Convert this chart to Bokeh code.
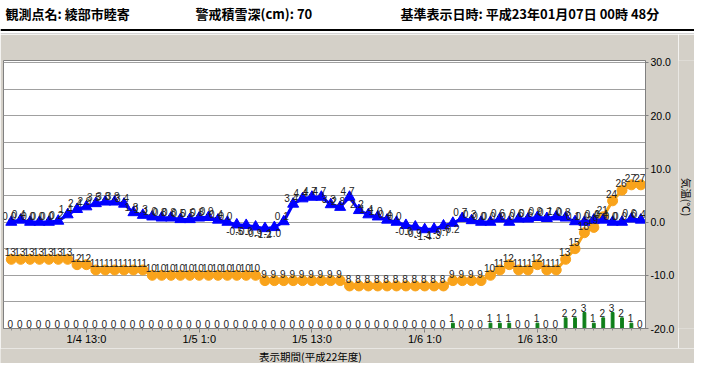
from math import pi
from bokeh.plotting import figure
from bokeh.models import (Range1d, FixedTicker, SingleIntervalTicker, ColumnDataSource,
                          Span, PrintfTickFormatter)
from bokeh.layouts import column, row
from bokeh.embed import file_html
from bokeh.resources import INLINE
from bokeh.core.properties import value

# ---------------- data ----------------
station = "観測点名: 綾部市睦寄"
warn_depth = "警戒積雪深(cm): 70"
ref_time = "基準表示日時: 平成23年01月07日 00時 48分"
x_title = "表示期間(平成22年度)"
y_title = "気温(℃)"

start_hour = 5  # 1/4 5:00, hours counted from 1/4 0:00

temp = [0.0, 0.4, 0.0, 0.0, 0.0, 0.2, 1.4, 2.4, 2.9, 3.5,
        3.8, 3.8, 3.4, 1.8, 1.3, 1.0, 0.8, 0.8, 0.5, 0.5,
        0.8, 0.9, 0.4, 0.0, -0.5, -0.6, -0.9, -1.2, -1.0, 0.1,
        3.4, 4.4, 4.7, 4.7, 3.3, 2.8, 4.7, 2.2, 1.4, 1.0,
        0.4, 0.0, -0.6, -0.9, -1.4, -1.3, -0.7, -0.2, 0.7, 0.3,
        0.0, 0.0, 0.6, 0.0, 0.6, 0.6, 0.9, 0.7, 1.0, 0.8,
        0.1, 0.0, 0.4, 0.4, 0.0, 0.0, 0.6, 0.4]

depth = [13, 13, 13, 13, 13, 13, 13, 12, 12, 11,
         11, 11, 11, 11, 11, 10, 10, 10, 10, 10,
         10, 10, 10, 10, 10, 10, 10, 9, 9, 9,
         9, 9, 9, 9, 9, 9, 8, 8, 8, 8,
         8, 8, 8, 8, 8, 8, 8, 9, 9, 9,
         9, 10, 11, 12, 11, 11, 12, 11, 11, 13,
         15, 18, 19, 21, 24, 26, 27, 27]

snowfall = [0, 0, 0, 0, 0, 0, 0, 0, 0, 0,
            0, 0, 0, 0, 0, 0, 0, 0, 0, 0,
            0, 0, 0, 0, 0, 0, 0, 0, 0, 0,
            0, 0, 0, 0, 0, 0, 0, 0, 0, 0,
            0, 0, 0, 0, 0, 0, 0, 1, 0, 0,
            0, 1, 1, 1, 0, 0, 1, 0, 0, 2,
            2, 3, 1, 2, 3, 2, 1, 0]

tick_hours = [13, 25, 37, 49, 61]
tick_labels = ["1/4 13:0", "1/5 1:0", "1/5 13:0", "1/6 1:0", "1/6 13:0"]
y_ticks = [-20, -10, 0, 10, 20, 30]

hours = [start_hour + i for i in range(len(temp))]

# ---------------- layout constants (pixels) ----------------
W, H = 694, 363
HDR_H = 34
B_LEFT, FRAME_W, B_RIGHT = 3, 642, 33
B_TOP, FRAME_H, B_BOTTOM = 26, 268, 20
MAIN_W = B_LEFT + FRAME_W + B_RIGHT
MAIN_H = B_TOP + FRAME_H + B_BOTTOM
RS_W = W - MAIN_W
BOT_H = H - HDR_H - MAIN_H

GRAY = "#d4d0c8"
ORANGE = "#f9a31b"
BLUE = "#0000ff"
GREEN = "#0f7f1a"
LBL_FONT = value("Liberation Sans")
JP_FONT = value("Noto Sans CJK JP")


def blank(width, height, fill):
    f = figure(width=width, height=height, x_range=Range1d(0, width), y_range=Range1d(height, 0),
               x_axis_type=None, y_axis_type=None, toolbar_location=None,
               output_backend="svg", min_border=0)
    f.grid.visible = False
    f.outline_line_color = None
    f.background_fill_color = fill
    f.border_fill_color = fill
    return f


# ---------------- header ----------------
hdr = blank(W, HDR_H, "white")
hdr.text(x=[5, 195, 400], y=[13, 13, 13], text=[station, warn_depth, ref_time],
         text_font=JP_FONT, text_font_style="bold", text_font_size="13px",
         text_baseline="middle", text_align="left", text_color="black")
hdr.add_layout(Span(location=29.5, dimension="width", line_color="black", line_width=2))
hdr.add_layout(Span(location=33.5, dimension="width", line_color="#a8a8a8", line_width=1))

# ---------------- main chart ----------------
p = figure(frame_width=FRAME_W, frame_height=FRAME_H,
           x_range=Range1d(4.17, 72.5), y_range=Range1d(-20, 30.37),
           y_axis_location="right", toolbar_location=None, output_backend="svg",
           min_border_left=B_LEFT, min_border_right=B_RIGHT, min_border_top=B_TOP,
           min_border_bottom=B_BOTTOM)
p.extra_y_ranges = {"snow": Range1d(0, 50.37)}
p.border_fill_color = GRAY
p.background_fill_color = "white"
p.outline_line_color = "#808080"

# right (temperature) axis
p.yaxis.ticker = FixedTicker(ticks=y_ticks)
p.yaxis.formatter = PrintfTickFormatter(format="%.1f")
p.yaxis.major_tick_out = 3
p.yaxis.major_tick_in = 0
p.yaxis.minor_tick_out = 0
p.yaxis.minor_tick_in = 0
p.yaxis.axis_line_color = "#808080"
p.yaxis.major_tick_line_color = "#808080"
p.yaxis.major_label_standoff = 2
p.yaxis.major_label_text_font = "Liberation Sans"
p.yaxis.major_label_text_font_size = "10.5px"
p.yaxis.major_label_text_color = "black"

p.ygrid.ticker = SingleIntervalTicker(interval=5)
p.ygrid.grid_line_color = "#a0a0a0"
p.xgrid.visible = False

# bottom (time) axis
p.xaxis.ticker = FixedTicker(ticks=tick_hours, minor_ticks=hours)
p.xaxis.major_label_overrides = dict(zip(tick_hours, tick_labels))
p.xaxis.major_tick_out = 4
p.xaxis.major_tick_in = 0
p.xaxis.minor_tick_out = 2
p.xaxis.minor_tick_in = 0
p.xaxis.axis_line_color = "#808080"
p.xaxis.major_tick_line_color = "#808080"
p.xaxis.minor_tick_line_color = "#909090"
p.xaxis.major_label_standoff = 0
p.xaxis.major_label_text_font = "Liberation Sans"
p.xaxis.major_label_text_font_size = "11px"
p.xaxis.major_label_text_color = "black"

# snowfall bars
p.vbar(x=hours, top=snowfall, bottom=0, width=0.3, y_range_name="snow",
       fill_color=GREEN, line_color=GREEN)

# snow depth
p.line(hours, depth, y_range_name="snow", line_color=ORANGE, line_width=3)
p.scatter(hours, depth, y_range_name="snow", marker="circle", size=10,
          fill_color=ORANGE, line_color=ORANGE)

# temperature
p.line(hours, temp, line_color=BLUE, line_width=3)
p.scatter(hours, temp, marker="triangle", size=11, fill_color=BLUE, line_color=BLUE)

# value labels
pos = [(h, t) for h, t in zip(hours, temp) if t >= 0]
neg = [(h, t) for h, t in zip(hours, temp) if t < 0]
src_pos = ColumnDataSource(dict(x=[a for a, _ in pos], y=[b for _, b in pos],
                                t=[f"{b:.1f}" for _, b in pos]))
src_neg = ColumnDataSource(dict(x=[a for a, _ in neg], y=[b for _, b in neg],
                                t=[f"{b:.1f}" for _, b in neg]))
p.text(x="x", y="y", text="t", source=src_pos, text_font=LBL_FONT, text_font_size="10px",
       text_align="center", text_baseline="bottom", x_offset=-2, y_offset=-2, text_color="#222222")
p.text(x="x", y="y", text="t", source=src_neg, text_font=LBL_FONT, text_font_size="10px",
       text_align="center", text_baseline="top", x_offset=-2, y_offset=2, text_color="#222222")

src_depth = ColumnDataSource(dict(x=hours, y=depth, t=[str(v) for v in depth]))
p.text(x="x", y="y", text="t", source=src_depth, y_range_name="snow", text_font=LBL_FONT,
       text_font_size="10px", text_align="center", text_baseline="bottom",
       x_offset=-1, y_offset=-3, text_color="#222222")

src_fall = ColumnDataSource(dict(x=hours, y=snowfall, t=[str(v) for v in snowfall]))
p.text(x="x", y="y", text="t", source=src_fall, y_range_name="snow", text_font=LBL_FONT,
       text_font_size="10px", text_align="center", text_baseline="bottom",
       x_offset=-1, y_offset=-1, text_color="#222222")

# ---------------- right strip: temperature axis title ----------------
rs = blank(RS_W, MAIN_H, GRAY)
rs.text(x=[RS_W / 2], y=[160], text=[y_title], angle=-pi / 2, text_font=JP_FONT,
        text_font_size="10.5px", text_align="center", text_baseline="middle", text_color="black")

# ---------------- bottom strip: time axis title ----------------
bs = blank(W, BOT_H, GRAY)
bs.text(x=[310], y=[BOT_H / 2], text=[x_title], text_font=JP_FONT, text_font_size="10.5px",
        text_align="center", text_baseline="middle", text_color="black")

layout = column(hdr, row(p, rs, spacing=0), bs, spacing=0)
open("out.html", "w").write(file_html(layout, INLINE))
